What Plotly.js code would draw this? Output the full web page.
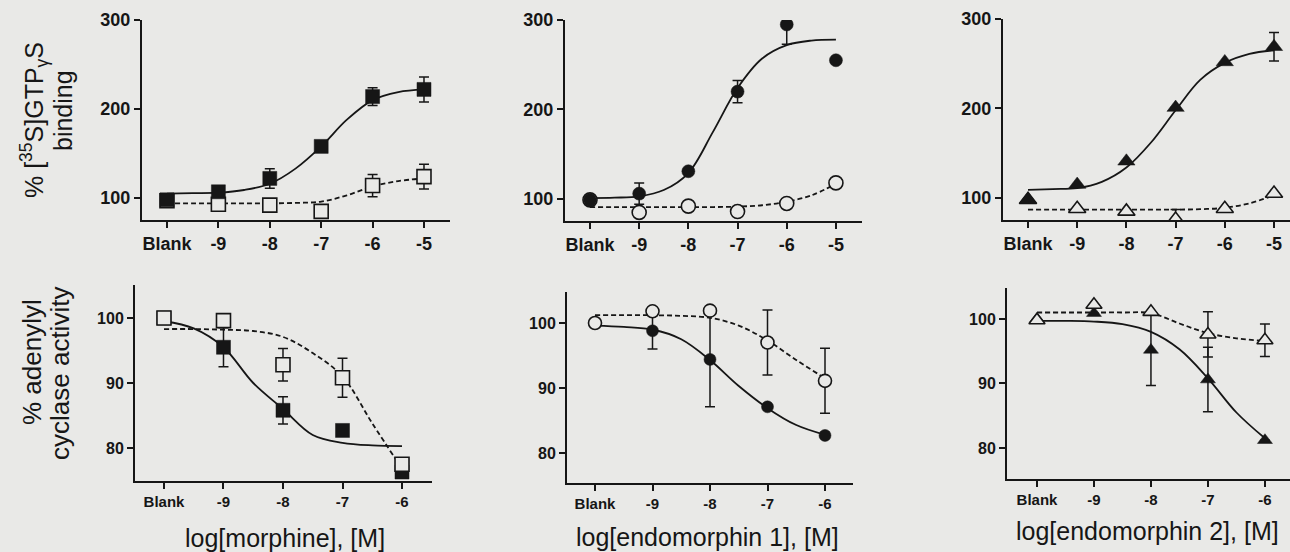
<!DOCTYPE html>
<html>
<head>
<meta charset="utf-8">
<script src="https://cdn.plot.ly/plotly-3.0.1.min.js"></script>
<style>html,body{margin:0;padding:0;background:#e9e9e7;}#chart{width:1290px;height:552px;}</style>
</head>
<body>
<div id="chart"></div>
<script>
// ---------- DATA ----------
const xTop = [-10, -9, -8, -7, -6, -5];
const xBot = [-10, -9, -8, -7, -6];
const topTickText = ['Blank', '-9', '-8', '-7', '-6', '-5'];
const botTickText = ['Blank', '-9', '-8', '-7', '-6'];
const topYTicks = [100, 200, 300];
const botYTicks = [80, 90, 100];

// fitted curves sampled along the drawn lines
const fitXTop = [-10, -9.5, -9, -8.5, -8, -7.5, -7, -6.5, -6, -5.5, -5];
const fitXBot = [-10, -9.5, -9, -8.5, -8, -7.5, -7, -6.5, -6];

// morphine, [35S]GTPgS binding
const morGtpFilled = [98, 107, 122, 158, 214, 222];
const morGtpFilledErr = [3, 4, 11, 3, 10, 14];
const morGtpOpen = [97, 93, 92, 85, 114, 124];
const morGtpOpenErr = [0, 0, 0, 0, 12.5, 14];
const morGtpFitSolid = [105, 105.5, 106, 109, 116, 133, 158, 188, 210, 219, 222];
const morGtpFitDash = [94, 94, 94, 94, 94, 94.5, 96, 103, 113, 119, 122];

// endomorphin 1, [35S]GTPgS binding
const em1GtpFilled = [99, 106, 131, 220, 295, 255];
const em1GtpFilledErrPlus = [0, 12, 0, 12.5, 8, 0];
const em1GtpFilledErrMinus = [0, 12, 0, 12.5, 22, 0];
const em1GtpOpen = [99, 85, 92, 86, 95, 118];
const em1GtpFitSolid = [101, 101.5, 103, 110, 129, 175, 224, 257, 272, 277, 278];
const em1GtpFitDash = [91, 91, 91, 91, 91, 91, 91.5, 93, 97, 104, 117];

// endomorphin 2, [35S]GTPgS binding
const em2GtpFilled = [98, 115, 141, 201, 252, 269];
const em2GtpFilledErr = [0, 0, 0, 0, 0, 16];
const em2GtpOpen = [98, 88, 85, 76, 88, 105];
const em2GtpOpenErr = [0, 0, 0, 11, 0, 0];
const em2GtpFitSolid = [109, 110, 111, 118, 134, 162, 198, 232, 251, 261, 265];
const em2GtpFitDash = [87, 87, 87, 87, 87, 87, 87, 87.5, 89, 94, 103];

// morphine, adenylyl cyclase activity
const morAcFilled = [100, 95.5, 85.8, 82.7, 76.3];
const morAcFilledErr = [0, 3, 2.1, 0, 0];
const morAcOpen = [100, 99.6, 92.8, 90.8, 77.5];
const morAcOpenErr = [0, 0, 2.5, 3, 0];
const morAcFitSolid = [99.5, 98.4, 95.5, 90, 86, 82, 80.8, 80.4, 80.3];
const morAcFitDash = [98.3, 98.3, 98.2, 98, 97.1, 94.6, 91, 83.8, 76.8];

// endomorphin 1, adenylyl cyclase activity
const em1AcFilled = [100, 98.8, 94.4, 87.1, 82.7];
const em1AcFilledErr = [0, 2.8, 7.3, 0, 0];
const em1AcOpen = [100, 101.8, 101.9, 97, 91.1];
const em1AcOpenErr = [0, 0, 0, 5, 5];
const em1AcFitSolid = [99.6, 99.4, 99, 97.5, 94.3, 90.3, 86.9, 84.3, 82.8];
const em1AcFitDash = [101.2, 101.2, 101.2, 101.1, 100.8, 99.6, 97.3, 94.3, 91.5];

// endomorphin 2, adenylyl cyclase activity
const em2AcFilled = [100, 100.9, 95.2, 90.6, 81.2];
const em2AcFilledErr = [0, 0, 5.5, 5, 0];
const em2AcOpen = [99.8, 102.2, 101.1, 97.6, 96.7];
const em2AcOpenErr = [0, 0, 0, 3.5, 2.5];
const em2AcFitSolid = [99.7, 99.7, 99.6, 99.2, 98, 95.3, 90.8, 85.5, 81.5];
const em2AcFitDash = [101, 101, 101, 101, 100.9, 99.3, 97.8, 97, 96.6];

const xTitles = ['log[morphine], [M]', 'log[endomorphin 1], [M]', 'log[endomorphin 2], [M]'];
const yTitleTop = ['% [<sup>35</sup>S]GTP<sub>γ</sub>S', 'binding'];
const yTitleBot = ['% adenylyl', 'cyclase activity'];

// ---------- STYLE / LAYOUT ----------
const W = 1290, H = 552;
const bg = '#e9e9e7';
const ink = '#161616';
const FONT = 'Liberation Sans, Arial, Helvetica, sans-serif';

const traces = [];
function curve(xs, ys, dash, n) {
  traces.push({type: 'scatter', mode: 'lines', x: xs, y: ys,
    xaxis: 'x' + (n === 1 ? '' : n), yaxis: 'y' + (n === 1 ? '' : n),
    line: {shape: 'spline', smoothing: 1, color: ink, width: 1.8, dash: dash},
    hoverinfo: 'skip', showlegend: false});
}
function pts(xs, ys, errP, errM, symbol, filled, size, n) {
  const t = {type: 'scatter', mode: 'markers', x: xs, y: ys,
    xaxis: 'x' + (n === 1 ? '' : n), yaxis: 'y' + (n === 1 ? '' : n),
    marker: {symbol: symbol, size: size, color: filled ? ink : bg,
      line: {color: ink, width: filled ? 0.5 : 1.6}},
    hoverinfo: 'skip', showlegend: false};
  if (errP) {
    t.error_y = {type: 'data', array: errP, arrayminus: errM || errP, symmetric: false,
      visible: true, color: ink, thickness: 1.5, width: 5};
  }
  traces.push(t);
}
const DASH = '5px,3px';

// panel 1
curve(fitXTop, morGtpFitSolid, 'solid', 1);
curve(fitXTop, morGtpFitDash, DASH, 1);
pts(xTop, morGtpOpen, morGtpOpenErr, null, 'square', false, 14, 1);
pts(xTop, morGtpFilled, morGtpFilledErr, null, 'square', true, 14, 1);
// panel 2
curve(fitXTop, em1GtpFitSolid, 'solid', 2);
curve(fitXTop, em1GtpFitDash, DASH, 2);
pts(xTop, em1GtpOpen, null, null, 'circle', false, 14, 2);
pts(xTop, em1GtpFilled, em1GtpFilledErrPlus, em1GtpFilledErrMinus, 'circle', true, 13, 2);
// panel 3
curve(fitXTop, em2GtpFitSolid, 'solid', 3);
curve(fitXTop, em2GtpFitDash, DASH, 3);
pts(xTop, em2GtpOpen, em2GtpOpenErr, null, 'triangle-up', false, 15, 3);
pts(xTop, em2GtpFilled, em2GtpFilledErr, null, 'triangle-up', true, 15, 3);
// panel 4
curve(fitXBot, morAcFitSolid, 'solid', 4);
curve(fitXBot, morAcFitDash, DASH, 4);
pts(xBot, morAcFilled, morAcFilledErr, null, 'square', true, 14, 4);
pts(xBot, morAcOpen, morAcOpenErr, null, 'square', false, 14, 4);
// panel 5
curve(fitXBot, em1AcFitSolid, 'solid', 5);
curve(fitXBot, em1AcFitDash, DASH, 5);
pts(xBot, em1AcFilled, em1AcFilledErr, null, 'circle', true, 12, 5);
pts(xBot, em1AcOpen, em1AcOpenErr, null, 'circle', false, 13, 5);
// panel 6
curve(fitXBot, em2AcFitSolid, 'solid', 6);
curve(fitXBot, em2AcFitDash, DASH, 6);
pts(xBot, em2AcFilled, em2AcFilledErr, null, 'triangle-up', true, 13, 6);
pts(xBot, em2AcOpen, em2AcOpenErr, null, 'triangle-up', false, 14, 6);

// panel geometry in pixels: [x0, x1], [y0(top), y1(bottom)], ranges
const geom = [
  {xp: [142, 450], yp: [20, 220], xr: [-10.486, -4.494], yr: [75.3, 300], top: true},
  {xp: [565, 862], yp: [20, 221], xr: [-10.508, -4.47], yr: [75.4, 300], top: true},
  {xp: [1003, 1290], yp: [19, 220], xr: [-10.508, -4.675], yr: [75.4, 300], top: true},
  {xp: [135, 432], yp: [285, 481], xr: [-10.487, -5.496], yr: [74.92, 105.08], top: false},
  {xp: [567, 853], yp: [292, 483], xr: [-10.487, -5.513], yr: [75.38, 104.77], top: false},
  {xp: [1007, 1290], yp: [288, 479], xr: [-10.526, -5.56], yr: [75.19, 104.8], top: false}
];

const layout = {
  width: W, height: H,
  margin: {l: 0, r: 0, t: 0, b: 0, pad: 0},
  paper_bgcolor: bg, plot_bgcolor: bg,
  showlegend: false,
  font: {family: FONT, color: ink},
  annotations: []
};

geom.forEach((g, i) => {
  const n = i + 1;
  const sx = n === 1 ? '' : n;
  const common = {
    showline: true, linecolor: ink, linewidth: 2,
    ticks: 'outside', ticklen: 6, tickwidth: 2, tickcolor: ink,
    showgrid: false, zeroline: false, fixedrange: true,
    tickfont: {family: FONT, size: g.top ? 18 : 15, color: ink, weight: 'bold'}
  };
  layout['xaxis' + sx] = Object.assign({}, common, {
    domain: [g.xp[0] / W, g.xp[1] / W], range: g.xr,
    anchor: 'y' + sx, tickmode: 'array',
    tickvals: g.top ? xTop : xBot, ticktext: g.top ? topTickText : botTickText
  });
  layout['yaxis' + sx] = Object.assign({}, common, {
    domain: [1 - g.yp[1] / H, 1 - g.yp[0] / H], range: g.yr,
    anchor: 'x' + sx, tickmode: 'array',
    tickvals: g.top ? topYTicks : botYTicks,
    tickfont: {family: FONT, size: g.top ? 18 : 16, color: ink, weight: 'bold'}
  });
});

// x-axis titles (bottom row)
const xTitlePos = [[285, 538], [707, 537], [1147, 531]];
xTitles.forEach((t, i) => {
  layout.annotations.push({text: t, xref: 'paper', yref: 'paper',
    x: xTitlePos[i][0] / W, y: 1 - xTitlePos[i][1] / H, xanchor: 'center', yanchor: 'middle',
    showarrow: false, font: {family: FONT, size: 25, color: ink}});
});
// y-axis titles (two lines each)
const yTopPos = [[34, 120], [63, 111]];
const yBotPos = [[32, 362], [60, 374]];
yTitleTop.forEach((t, i) => {
  layout.annotations.push({text: t, xref: 'paper', yref: 'paper', textangle: -90,
    x: yTopPos[i][0] / W, y: 1 - yTopPos[i][1] / H, xanchor: 'center', yanchor: 'middle',
    showarrow: false, font: {family: FONT, size: 25, color: ink}});
});
yTitleBot.forEach((t, i) => {
  layout.annotations.push({text: t, xref: 'paper', yref: 'paper', textangle: -90,
    x: yBotPos[i][0] / W, y: 1 - yBotPos[i][1] / H, xanchor: 'center', yanchor: 'middle',
    showarrow: false, font: {family: FONT, size: 26, color: ink}});
});

Plotly.newPlot('chart', traces, layout, {staticPlot: true, displayModeBar: false});
</script>
</body>
</html>
